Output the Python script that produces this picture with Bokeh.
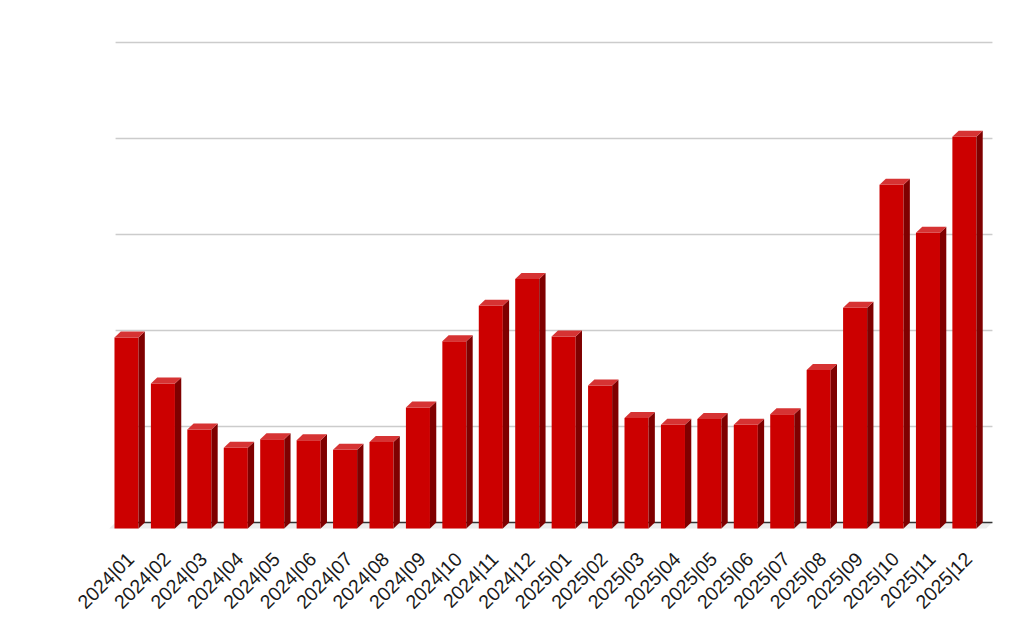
import math
from bokeh.plotting import figure
from bokeh.models import Range1d, FixedTicker
from bokeh.embed import file_html
from bokeh.resources import INLINE

# ---- data ----
months = ["2024|01", "2024|02", "2024|03", "2024|04", "2024|05", "2024|06",
          "2024|07", "2024|08", "2024|09", "2024|10", "2024|11", "2024|12",
          "2025|01", "2025|02", "2025|03", "2025|04", "2025|05", "2025|06",
          "2025|07", "2025|08", "2025|09", "2025|10", "2025|11", "2025|12"]
values = [199, 151, 103, 84, 93, 92, 82, 90, 126, 195, 232, 260,
          200, 149, 115, 108, 114, 108, 119, 165, 230, 358, 308, 408]
grid_values = [100, 200, 300, 400, 500]
baseline = 0

# ---- style / geometry ----
FRONT = "#cc0000"
SIDE = "#7f0000"
TOP = "#d63333"
HW = 0.33      # half width of bar front face (x units)
DX = 0.173     # depth offset in x units
DY = 6.25      # depth offset in y units
X0, X1 = -0.30, 23.77   # back wall extent
LABEL_SHIFT = 0.11      # label anchor offset (x units)

p = figure(width=1008, height=625, output_backend="svg", toolbar_location=None,
           x_range=Range1d(-0.7137, 23.991), y_range=Range1d(-18.75, 512.5),
           min_border_left=100, min_border_right=8, min_border_top=30,
           min_border_bottom=85, outline_line_color=None)
p.xgrid.visible = False
p.ygrid.visible = False
p.yaxis.visible = False

# floor
p.patch([X0 - DX, X1 - DX, X1, X0], [baseline - DY, baseline - DY, baseline, baseline],
        fill_color="#ececec", line_color=None)

# gridlines
p.segment(x0=[X0] * len(grid_values), x1=[X1] * len(grid_values),
          y0=grid_values, y1=grid_values, line_color="#cccccc", line_width=1.5)
p.segment(x0=[X0], x1=[X1], y0=[baseline], y1=[baseline], line_color="#333333", line_width=1.5)

n = len(values)
xs = list(range(n))
front_bottom = [baseline - DY] * n
front_top = [v - DY for v in values]
p.quad(left=[x - HW for x in xs], right=[x + HW for x in xs],
       bottom=front_bottom, top=front_top, fill_color=FRONT, line_color=None)

side_x, side_y, top_x, top_y = [], [], [], []
for x, v in zip(xs, values):
    r = x + HW
    l = x - HW
    side_x.append([r, r + DX, r + DX, r])
    side_y.append([baseline - DY, baseline, v, v - DY])
    top_x.append([l, r, r + DX, l + DX])
    top_y.append([v - DY, v - DY, v, v])
p.patches(side_x, side_y, fill_color=SIDE, line_color=None)
p.patches(top_x, top_y, fill_color=TOP, line_color=None)

ticks = [x + LABEL_SHIFT for x in xs]
ax = p.xaxis[0]
ax.ticker = FixedTicker(ticks=ticks)
ax.major_label_overrides = {t: m for t, m in zip(ticks, months)}
ax.major_label_orientation = math.pi / 4
ax.axis_line_color = None
ax.major_tick_line_color = None
ax.minor_tick_line_color = None
ax.major_label_text_font = "Liberation Sans"
ax.major_label_text_font_size = "19.5px"
ax.major_label_text_color = "#1a1a1a"
ax.major_label_standoff = 9

open("out.html", "w").write(file_html(p, INLINE))
